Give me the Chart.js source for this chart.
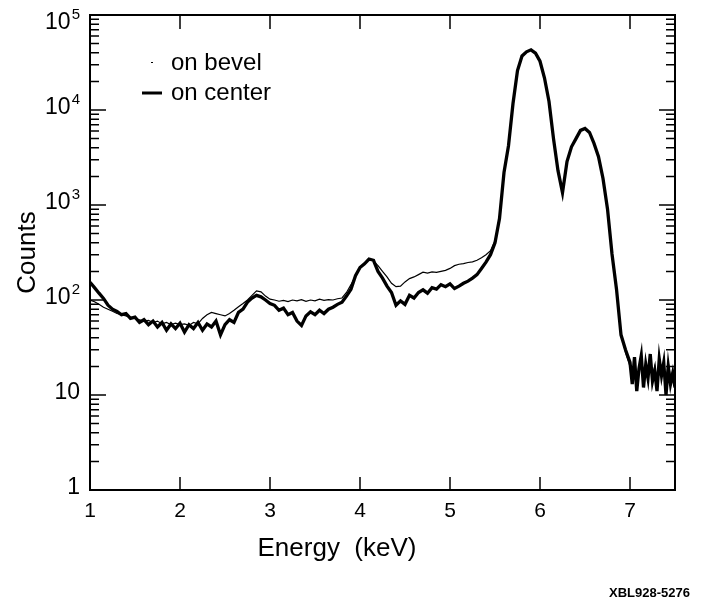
<!DOCTYPE html>
<html lang="en">
<head>
    <meta charset="UTF-8">
    <title>Counts vs Energy</title>
    <script src="https://cdn.jsdelivr.net/npm/chart.js@4"></script>
    <style>
        body {
            margin: 0;
            background: #fff;
        }
        #wrap {
            width: 702px;
            height: 604px;
        }
    </style>
</head>
<body>
<div id="wrap"><canvas id="spectrum" width="702" height="604"></canvas></div>
<script>
    // energy channels (keV); finer near the noisy tail
    const energies = [
        1.00, 1.05, 1.10, 1.15, 1.20, 1.25, 1.30, 1.35, 1.40, 1.45,
        1.50, 1.55, 1.60, 1.65, 1.70, 1.75, 1.80, 1.85, 1.90, 1.95,
        2.00, 2.05, 2.10, 2.15, 2.20, 2.25, 2.30, 2.35, 2.40, 2.45,
        2.50, 2.55, 2.60, 2.65, 2.70, 2.75, 2.80, 2.85, 2.90, 2.95,
        3.00, 3.05, 3.10, 3.15, 3.20, 3.25, 3.30, 3.35, 3.40, 3.45,
        3.50, 3.55, 3.60, 3.65, 3.70, 3.75, 3.80, 3.85, 3.90, 3.95,
        4.00, 4.05, 4.10, 4.15, 4.20, 4.25, 4.30, 4.35, 4.40, 4.45,
        4.50, 4.55, 4.60, 4.65, 4.70, 4.75, 4.80, 4.85, 4.90, 4.95,
        5.00, 5.05, 5.10, 5.15, 5.20, 5.25, 5.30, 5.35, 5.40, 5.45,
        5.50, 5.55, 5.60, 5.65, 5.70, 5.75, 5.80, 5.85, 5.90, 5.95,
        6.00, 6.05, 6.10, 6.15, 6.20, 6.25, 6.30, 6.35, 6.40, 6.45,
        6.50, 6.55, 6.60, 6.65, 6.70, 6.75, 6.80, 6.85, 6.90, 6.95,
        7.000, 7.025, 7.050, 7.075, 7.100, 7.125, 7.150, 7.175, 7.200, 7.225,
        7.250, 7.275, 7.300, 7.325, 7.350, 7.375, 7.400, 7.425, 7.450, 7.475,
        7.500
    ];

    const onCenter = [
        154, 135, 118, 104, 88, 80, 76, 70, 72, 64,
        66, 58, 62, 55, 60, 52, 58, 48, 56, 50,
        57, 46, 55, 50, 58, 48, 56, 52, 60, 43,
        55, 62, 58, 74, 80, 95, 105, 112, 108, 100,
        92, 88, 78, 82, 70, 74, 60, 54, 68, 75,
        70, 78, 72, 80, 84, 90, 95, 110, 130, 180,
        220, 240, 270, 262, 200, 170, 140, 120, 88, 98,
        90, 112, 105, 120, 128, 118, 135, 130, 145, 138,
        148, 132, 140, 150, 158, 170, 185, 215, 250, 300,
        400, 720, 2200, 4200, 11700, 26000, 37000, 41000, 43000, 39600,
        32600, 21700, 12300, 5000, 2300, 1350, 2870, 4100, 5000, 6100,
        6400, 5800, 4450, 3230, 1900, 910, 305, 130, 43, 30,
        22, 13, 25, 11, 19, 26, 12, 21, 15, 27,
        14, 18, 11, 24, 16, 22, 10, 20, 13, 17,
        12
    ];

    const onBevel = [
        100, 96, 90, 84, 80, 76, 72, 70, 68, 66,
        64, 62, 60, 61, 58, 60, 56, 58, 55, 57,
        55, 56, 54, 58, 56, 64, 70, 74, 72, 70,
        68, 72, 78, 85, 92, 100, 112, 125, 122, 110,
        102, 100, 97, 99, 96, 100, 98, 101, 97, 100,
        98, 102, 99, 101, 100, 103, 105, 120, 145, 180,
        215, 240, 268, 258, 230, 200, 175, 150, 138, 140,
        155, 168, 175, 185, 196, 192, 198, 195, 200, 205,
        215, 230, 238, 242, 248, 252, 262, 278, 300, 330,
        420, 720, 2250, 4300, 11500, 25500, 36500, 41000, 42500, 39000,
        32000, 21500, 12200, 5000, 2350, 1400, 2850, 4100, 5000, 6000,
        6300, 5750, 4400, 3200, 1900, 900, 300, 128, 45, 28,
        20, 16, 21, 14, 18, 22, 15, 19, 17, 23,
        16, 20, 14, 21, 18, 19, 13, 22, 15, 18,
        14
    ];

    const seriesNames = ['on bevel', 'on center'];
    const xTicks = [1, 2, 3, 4, 5, 6, 7];
    const yDecades = [1, 10, 100, 1000, 10000, 100000];
    // tick label = base + superscript exponent
    const yTickBase = ['1', '10', '10', '10', '10', '10'];
    const yTickExp = ['', '', '2', '3', '4', '5'];
    const yMinor = [2, 3, 4, 5, 6, 7, 8, 9];

    const FONT = '"Liberation Sans", Arial, "DejaVu Sans", sans-serif';

    // ticks point into the plot on all four sides
    const inwardTicks = {
        id: 'inwardTicks',
        afterDatasetsDraw(chart) {
            const { ctx, chartArea: a, scales: { x, y } } = chart;
            ctx.save();
            ctx.strokeStyle = '#000';
            ctx.lineWidth = 1.5;
            ctx.beginPath();
            xTicks.forEach(v => {
                if (v === 1) return;
                const px = x.getPixelForValue(v);
                ctx.moveTo(px, a.bottom);
                ctx.lineTo(px, a.bottom - 13);
                ctx.moveTo(px, a.top);
                ctx.lineTo(px, a.top + 14);
            });
            yDecades.forEach(d => {
                if (d > 1 && d < 100000) {
                    const py = y.getPixelForValue(d);
                    ctx.moveTo(a.left, py);
                    ctx.lineTo(a.left + 16, py);
                    ctx.moveTo(a.right, py);
                    ctx.lineTo(a.right - 16, py);
                }
                yMinor.forEach(m => {
                    const v = d * m;
                    if (v >= 100000) return;
                    const py = y.getPixelForValue(v);
                    ctx.moveTo(a.left, py);
                    ctx.lineTo(a.left + 9, py);
                    ctx.moveTo(a.right, py);
                    ctx.lineTo(a.right - 9, py);
                });
            });
            ctx.stroke();
            ctx.restore();
        }
    };

    // y labels with raised exponents, legend, x title, figure code
    const extraText = {
        id: 'extraText',
        afterDraw(chart) {
            const { ctx, scales: { y } } = chart;
            ctx.save();
            ctx.fillStyle = '#000';
            ctx.strokeStyle = '#000';
            ctx.textBaseline = 'middle';

            const labelRight = 80;
            yDecades.forEach((d, i) => {
                const py = Math.max(y.getPixelForValue(d) - 2, 23);
                const exp = yTickExp[i];
                ctx.font = '15px ' + FONT;
                const expW = exp ? ctx.measureText(exp).width : 0;
                if (exp) {
                    ctx.textAlign = 'right';
                    ctx.fillText(exp, labelRight, py - 8);
                }
                ctx.font = '23px ' + FONT;
                ctx.textAlign = 'right';
                ctx.fillText(yTickBase[i], labelRight - expW - (exp ? 1 : 0), py);
            });

            ctx.textAlign = 'left';
            ctx.font = '24px ' + FONT;
            ctx.fillText(seriesNames[0], 171, 63);
            ctx.fillText(seriesNames[1], 171, 93);
            ctx.fillRect(151, 62, 2, 1);
            ctx.lineWidth = 3;
            ctx.beginPath();
            ctx.moveTo(142, 93);
            ctx.lineTo(162, 93);
            ctx.stroke();

            ctx.textAlign = 'center';
            ctx.font = '26px ' + FONT;
            ctx.fillText('Energy  (keV)', 337, 549);

            ctx.textAlign = 'right';
            ctx.font = 'bold 13px ' + FONT;
            ctx.fillText('XBL928-5276', 690, 593);
            ctx.restore();
        }
    };

    function buildPoints(values) {
        return energies.map((e, i) => ({ x: e, y: values[i] }));
    }

    const plainAxis = {
        ticks: { display: false },
        grid: { drawOnChartArea: false, drawTicks: false },
        border: { display: true, color: '#000', width: 2 }
    };

    const ctx = document.getElementById('spectrum').getContext('2d');
    new Chart(ctx, {
        type: 'line',
        data: {
            datasets: [
                {
                    label: seriesNames[0],
                    data: buildPoints(onBevel),
                    borderColor: '#000',
                    borderWidth: 1.2,
                    pointRadius: 0,
                    tension: 0
                },
                {
                    label: seriesNames[1],
                    data: buildPoints(onCenter),
                    borderColor: '#000',
                    borderWidth: 3.3,
                    pointRadius: 0,
                    tension: 0
                }
            ]
        },
        options: {
            responsive: false,
            animation: false,
            layout: { padding: { top: 15, right: 27, left: 0, bottom: 0 } },
            plugins: {
                legend: { display: false },
                tooltip: { enabled: false }
            },
            scales: {
                x: {
                    type: 'linear',
                    position: 'bottom',
                    min: 1,
                    max: 7.5,
                    afterBuildTicks: s => { s.ticks = xTicks.map(v => ({ value: v })); },
                    afterFit: s => { s.height = 114; },
                    grid: { drawOnChartArea: false, drawTicks: false },
                    border: { display: true, color: '#000', width: 2 },
                    ticks: {
                        color: '#000',
                        font: { family: FONT, size: 21 },
                        padding: 9,
                        maxRotation: 0,
                        autoSkip: false
                    }
                },
                y: {
                    type: 'logarithmic',
                    position: 'left',
                    min: 1,
                    max: 100000,
                    afterBuildTicks: s => { s.ticks = yDecades.map(v => ({ value: v })); },
                    afterFit: s => { s.width = 90; },
                    grid: { drawOnChartArea: false, drawTicks: false },
                    border: { display: true, color: '#000', width: 2 },
                    ticks: { display: false },
                    title: {
                        display: true,
                        text: 'Counts',
                        color: '#000',
                        font: { family: FONT, size: 26 },
                        padding: { top: 12, bottom: 0 }
                    }
                },
                x2: Object.assign({
                    type: 'linear',
                    position: 'top',
                    min: 1,
                    max: 7.5,
                    afterFit: s => { s.height = 0; }
                }, plainAxis),
                y2: Object.assign({
                    type: 'logarithmic',
                    position: 'right',
                    min: 1,
                    max: 100000,
                    afterFit: s => { s.width = 0; }
                }, plainAxis)
            }
        },
        plugins: [inwardTicks, extraText]
    });
</script>
</body>
</html>
